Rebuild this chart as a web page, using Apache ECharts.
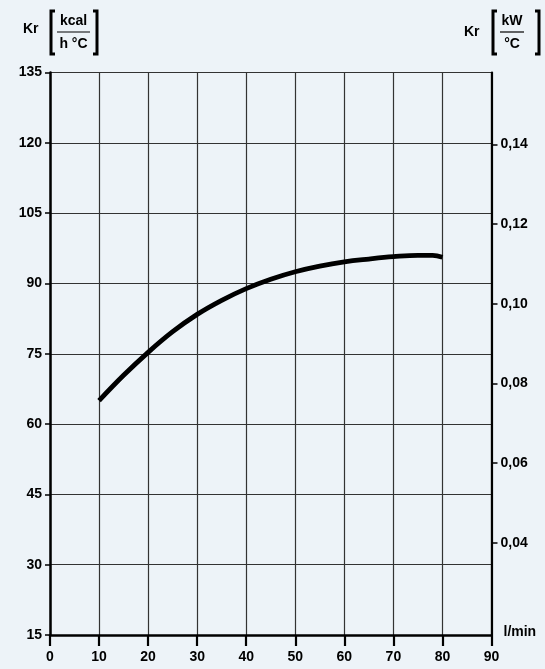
<!DOCTYPE html>
<html>
<head>
<meta charset="utf-8">
<script src="https://cdn.jsdelivr.net/npm/echarts@6/dist/echarts.min.js"></script>
<style>
html,body{margin:0;padding:0;background:#edf3f8;}
#chart{width:545px;height:669px;}
</style>
</head>
<body>
<div id="chart"></div>
<script>
// Data
var flowLmin = [10, 15, 20, 25, 30, 35, 40, 45, 50, 55, 60, 65, 70, 75, 78, 80];
var krKcal  = [65, 70.4, 75.3, 79.7, 83.4, 86.4, 88.9, 90.9, 92.5, 93.7, 94.6, 95.2, 95.7, 96.0, 96.0, 95.6];
var rightTicksKW = [0.04, 0.06, 0.08, 0.10, 0.12, 0.14];
var leftMin = 15, leftMax = 135, leftStep = 15;
var xMin = 0, xMax = 90, xStep = 10;
var rightMin = 0.01685, rightMax = 0.15806;

var FONT = 'Liberation Sans, Arial, sans-serif';
var lbl = {color:'#000', fontFamily:FONT, fontWeight:'bold', fontSize:14};

var chart = echarts.init(document.getElementById('chart'), null, {renderer:'canvas'});
chart.setOption({
  backgroundColor:'#edf3f8',
  animation:false,
  grid:{left:50, right:53.5, top:72.5, bottom:34, containLabel:false},
  xAxis:{
    type:'value', min:xMin, max:xMax, interval:xStep,
    name:'l/min', nameLocation:'end', nameGap:12,
    nameTextStyle:{color:'#000', fontFamily:FONT, fontWeight:'bold', fontSize:14, verticalAlign:'bottom', padding:[0,0,-4,0]},
    axisLine:{show:true, lineStyle:{color:'#000', width:2.5}},
    axisTick:{show:true, length:11, inside:false, lineStyle:{color:'#000', width:2.2}},
    axisLabel:Object.assign({}, lbl, {margin:15}),
    splitLine:{show:true, lineStyle:{color:'#333', width:1.2}}
  },
  yAxis:[{
    type:'value', min:leftMin, max:leftMax, interval:leftStep, position:'left',
    axisLine:{show:true, lineStyle:{color:'#000', width:2.5}},
    axisTick:{show:true, length:5, lineStyle:{color:'#000', width:1.5}},
    axisLabel:Object.assign({}, lbl, {margin:8}),
    splitLine:{show:true, lineStyle:{color:'#333', width:1.2}}
  },{
    type:'value', min:rightMin, max:rightMax, position:'right',
    axisLine:{show:true, onZero:false, lineStyle:{color:'#000', width:2.2}},
    axisTick:{show:true, length:6, customValues:rightTicksKW, lineStyle:{color:'#000', width:1.5}},
    axisLabel:Object.assign({}, lbl, {margin:9, customValues:rightTicksKW,
      formatter:function(v){return v.toFixed(2).replace('.', ',');}}),
    splitLine:{show:false}
  }],
  series:[{
    type:'line', yAxisIndex:0, smooth:0.4, symbol:'none',
    lineStyle:{color:'#000', width:4.8, cap:'butt'},
    data: flowLmin.map(function(x,i){return [x, krKcal[i]];})
  }],
  graphic:[
    // left header
    {type:'text', left:23, top:22, style:{text:'Kr', font:'bold 14px '+FONT, fill:'#000'}},
    {type:'polyline', shape:{points:[[55,11],[51,11],[51,54],[55,54]]}, style:{stroke:'#000', lineWidth:3, fill:null}},
    {type:'text', x:73.5, y:21, style:{text:'kcal', font:'bold 14px '+FONT, fill:'#000', align:'center', verticalAlign:'middle'}},
    {type:'line', shape:{x1:57, y1:32, x2:90, y2:32}, style:{stroke:'#000', lineWidth:1.2}},
    {type:'text', x:73.5, y:44, style:{text:'h °C', font:'bold 14px '+FONT, fill:'#000', align:'center', verticalAlign:'middle'}},
    {type:'polyline', shape:{points:[[93,11],[97,11],[97,54],[93,54]]}, style:{stroke:'#000', lineWidth:3, fill:null}},
    // right header
    {type:'text', left:464, top:25, style:{text:'Kr', font:'bold 14px '+FONT, fill:'#000'}},
    {type:'polyline', shape:{points:[[497,11],[493,11],[493,54],[497,54]]}, style:{stroke:'#000', lineWidth:3, fill:null}},
    {type:'text', x:512, y:21, style:{text:'kW', font:'bold 14px '+FONT, fill:'#000', align:'center', verticalAlign:'middle'}},
    {type:'line', shape:{x1:500, y1:32, x2:524, y2:32}, style:{stroke:'#000', lineWidth:1.2}},
    {type:'text', x:512, y:44, style:{text:'°C', font:'bold 14px '+FONT, fill:'#000', align:'center', verticalAlign:'middle'}},
    {type:'polyline', shape:{points:[[535,11],[539,11],[539,54],[535,54]]}, style:{stroke:'#000', lineWidth:3, fill:null}}
  ]
});
</script>
</body>
</html>
